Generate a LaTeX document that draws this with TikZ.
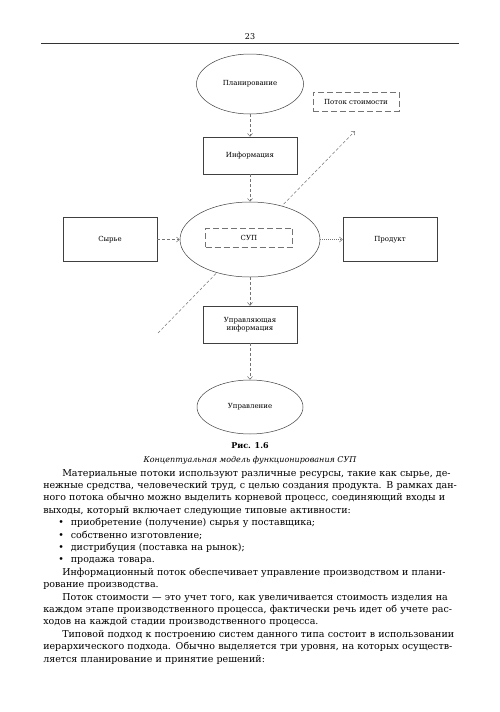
\documentclass[tikz,border=0pt]{standalone}
\usepackage{fontspec}
\setmainfont{DejaVu Serif}
\usetikzlibrary{arrows.meta,shapes.geometric,positioning}

\newcommand{\jline}[1]{\makebox[415pt][s]{#1}}

\begin{document}
\begin{tikzpicture}[x=1pt,y=-1pt]
\tikzstyle{every path}=[line width=0.5pt]

\tikzstyle{blockbox}=[draw=black!75,minimum width=94pt,minimum height=37pt,
  font=\fontsize{7}{8.5}\selectfont,align=center,inner sep=1pt]
\tikzstyle{roundbox}=[ellipse,draw=black!75,fill=white,
  font=\fontsize{7}{8.5}\selectfont,inner sep=0pt]
\tikzstyle{dashbox}=[draw=black!55,dash pattern=on 6pt off 3pt,
  font=\fontsize{7}{8.5}\selectfont,inner sep=1pt]
\tikzstyle{flowline}=[draw=black!55,dash pattern=on 3pt off 2pt,
  -{Straight Barb[length=3pt,width=5pt]}]

\useasboundingbox (0,0) rectangle (500,712);

%% Page head
\node (pagenum) at (250,37) {\fontsize{8}{9}\selectfont 23};
\draw [line width=0.8pt,black!80] (41,43) -- (459,43);

%% Value stream runs behind the system
\coordinate (vstart) at (158,333);
\coordinate (vend) at (355,131);
\draw [flowline] (vstart) -- (vend);

%% Diagram
\node (plan)[roundbox,minimum width=107pt,minimum height=60pt] at (250,84) {Планирование};
\node (valbox)[dashbox,minimum width=86pt,minimum height=19pt] at (356,101.5) {Поток стоимости};
\node (info)[blockbox] at (250,155.5) {Информация};
\node (sup)[roundbox,minimum width=140pt,minimum height=75pt] at (250,239.5) {};
\node (supbox)[dashbox,minimum width=87pt,minimum height=19pt] at (249,237.5) {СУП};
\node (raw)[blockbox,minimum height=44pt] at (110,239.5) {Сырье};
\node (prod)[blockbox,minimum height=44pt] at (390,239.5) {Продукт};
\node (ctrlinfo)[blockbox] at (250,324.5) {Управляющая\\информация};
\node (ctrl)[roundbox,minimum width=106pt,minimum height=54pt] at (250,407) {Управление};

\draw [flowline] (plan) -- (info);
\draw [flowline] (info) -- (sup);
\draw [flowline] (sup) -- (ctrlinfo);
\draw [flowline] (ctrlinfo) -- (ctrl);
\draw [flowline] (raw) -- (sup);
\draw [flowline,dash pattern=on 1pt off 1pt] (sup) -- (prod);

%% Caption
\node (fignum) at (250,446) {\fontsize{8}{9}\selectfont\bfseries Рис. 1.6};
\node (figcap) at (250,460) {\fontsize{8}{9}\selectfont\itshape Концептуальная модель функционирования СУП};

%% Body text
\node (body)[anchor=north west,inner sep=0pt,text width=415pt,align=left,
  font=\fontsize{9.5}{12.4}\selectfont,text=black] at (43,469) {%
\jline{\hspace*{19pt}Материальные потоки используют различные ресурсы, такие как сырье, де-}\\
\jline{нежные средства, человеческий труд, с целью создания продукта. В рамках дан-}\\
\jline{ного потока обычно можно выделить корневой процесс, соединяющий входы и}\\
выходы, который включает следующие типовые активности:\\
\hspace*{15pt}•\hspace*{7pt}приобретение (получение) сырья у поставщика;\\
\hspace*{15pt}•\hspace*{7pt}собственно изготовление;\\
\hspace*{15pt}•\hspace*{7pt}дистрибуция (поставка на рынок);\\
\hspace*{15pt}•\hspace*{7pt}продажа товара.\\
\jline{\hspace*{19pt}Информационный поток обеспечивает управление производством и плани-}\\
рование производства.\\
\jline{\hspace*{19pt}Поток стоимости — это учет того, как увеличивается стоимость изделия на}\\
\jline{каждом этапе производственного процесса, фактически речь идет об учете рас-}\\
ходов на каждой стадии производственного процесса.\\
\jline{\hspace*{19pt}Типовой подход к построению систем данного типа состоит в использовании}\\
\jline{иерархического подхода. Обычно выделяется три уровня, на которых осуществ-}\\
ляется планирование и принятие решений:};
\end{tikzpicture}
\end{document}
